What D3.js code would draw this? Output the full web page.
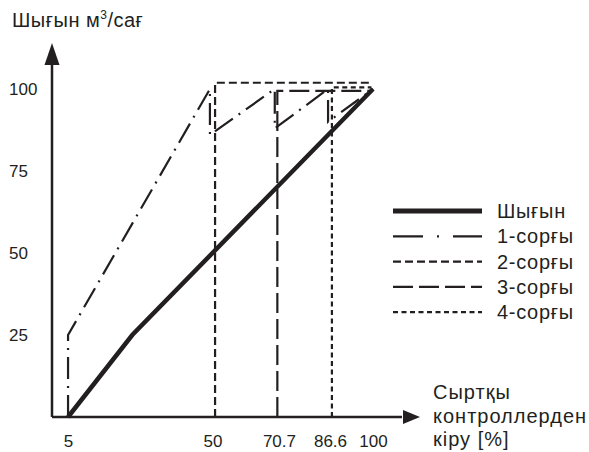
<!DOCTYPE html>
<html>
<head>
<meta charset="utf-8">
<script src="https://cdn.jsdelivr.net/npm/d3@7"></script>
<style>
  html, body { margin: 0; padding: 0; background: #fff; }
  text { font-family: "Liberation Sans", Arial, sans-serif; fill: #231f20; }
</style>
</head>
<body>
<svg id="chart" width="589" height="452"></svg>
<script>
// ---- data ----
const xTicks = [5, 50, 70.7, 86.6, 100];
const yTicks = [25, 50, 75, 100];
const flow = [[5, 0], [25, 25], [100, 100]];                 // Шығын
const pump1 = [[5, 0], [5, 25], [49.2, 100], [49.2, 86], [69.4, 100], [69.4, 88], [86, 100], [86, 90], [100, 100]];
const pump2 = [[50.8, 0], [50.8, 101.9], [99.5, 101.9]];
const pump3 = [[70.2, 0], [70.2, 99.4], [99.5, 99.4]];
const pump4 = [[87.2, 0], [87.2, 100.5], [99.5, 100.5]];
const seriesNames = ["Шығын", "1-сорғы", "2-сорғы", "3-сорғы", "4-сорғы"];
const yTitle = "Шығын м";
const xTitle = ["Сыртқы", "контроллерден", "кіру [%]"];

// ---- styles ----
const ink = "#231f20";
const styles = [
  { w: 4.5, dash: null },
  { w: 2.2, dash: "22,7,2,7" },
  { w: 2.2, dash: "8,4" },
  { w: 2.2, dash: "20,6" },
  { w: 2.2, dash: "5,3.5" }
];
const seriesData = [flow, pump1, pump2, pump3, pump4];

const svg = d3.select("#chart");
const x = d3.scaleLinear().domain([0, 100]).range([52, 373]);
const y = d3.scaleLinear().domain([0, 100]).range([417, 89]);

// axes lines with arrows
svg.append("line").attr("x1", x(0)).attr("y1", y(0)).attr("x2", x(0)).attr("y2", 62)
  .attr("stroke", ink).attr("stroke-width", 2.5);
svg.append("path").attr("d", `M${x(0)},43 L${x(0) - 7.5},65 L${x(0) + 7.5},65 Z`).attr("fill", ink);
svg.append("line").attr("x1", x(0)).attr("y1", y(0)).attr("x2", 402).attr("y2", y(0))
  .attr("stroke", ink).attr("stroke-width", 2.5);
svg.append("path").attr("d", `M420,${y(0)} L403,${y(0) - 7} L403,${y(0) + 7} Z`).attr("fill", ink);

// tick labels through axes
const xAxis = d3.axisBottom(x).tickValues(xTicks).tickSize(0).tickPadding(18)
  .tickFormat(d => String(d));
const gx = svg.append("g").attr("transform", `translate(0,${y(0)})`).call(xAxis);
gx.select(".domain").remove();
gx.selectAll("text").style("font-size", "17px").attr("fill", ink)
  .style("font-family", "'Liberation Sans', Arial, sans-serif");

const yAxis = d3.axisLeft(y).tickValues(yTicks).tickSize(0).tickFormat(d => String(d));
const gy = svg.append("g").attr("transform", `translate(${x(0)},0)`).call(yAxis);
gy.select(".domain").remove();
gy.selectAll("text").style("font-size", "17px").attr("fill", ink)
  .attr("text-anchor", "start").attr("x", 9 - x(0))
  .style("font-family", "'Liberation Sans', Arial, sans-serif");

// series
const line = d3.line().x(d => x(d[0])).y(d => y(d[1]));
seriesData.forEach((s, i) => {
  svg.append("path").datum(s).attr("d", line)
    .attr("fill", "none").attr("stroke", ink)
    .attr("stroke-width", styles[i].w)
    .attr("stroke-dasharray", styles[i].dash)
    .attr("stroke-linejoin", "miter").attr("stroke-linecap", "butt");
});

// titles
const t = svg.append("text").attr("x", 12).attr("y", 27).style("font-size", "20px")
  .style("letter-spacing", "0.5px").text(yTitle);
t.append("tspan").attr("dy", -8).style("font-size", "12px").text("3");
t.append("tspan").attr("dy", 8).text("/сағ");

xTitle.forEach((s, i) => {
  svg.append("text").attr("x", 433).attr("y", 399 + i * 23.5).style("font-size", "20px")
    .style("letter-spacing", "1px").text(s);
});

// legend
seriesNames.forEach((n, i) => {
  const yy = 211 + i * 25.3;
  svg.append("line").attr("x1", 393).attr("x2", 482).attr("y1", yy).attr("y2", yy)
    .attr("stroke", ink).attr("stroke-width", i === 0 ? 5 : 2.2)
    .attr("stroke-dasharray", i === 1 ? "30,14,2,14" : styles[i].dash);
  svg.append("text").attr("x", 497).attr("y", yy + 7).style("font-size", "20px")
    .style("letter-spacing", "0.7px").text(n);
});
</script>
</body>
</html>
